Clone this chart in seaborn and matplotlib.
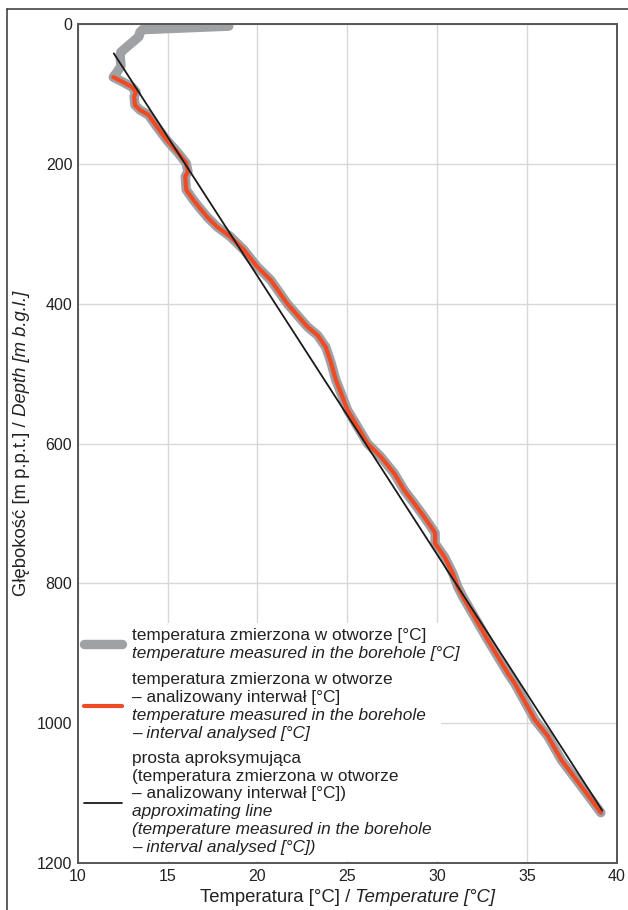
import numpy as np
import pandas as pd
import seaborn as sns
import matplotlib.pyplot as plt
from matplotlib.lines import Line2D
from matplotlib.patches import Rectangle

# top part of the measured profile (above the analysed interval)
top_temp = [18.4, 13.6, 13.45, 13.4, 12.4, 12.35, 12.4, 12.2]
top_depth = [3, 8, 12, 18, 40, 45, 60, 68]

# analysed interval
int_temp = [11.97, 12.44, 13.0, 13.24, 13.13, 13.18, 13.46, 13.93, 14.4, 14.95,
            15.6, 16.03, 16.13, 15.98, 16.03, 16.44, 16.75, 17.2, 17.75, 18.49,
            19.24, 19.98, 20.73, 21.66, 22.78, 23.34, 23.8, 24.08, 24.36, 24.73,
            25.01, 25.57, 26.13, 26.87, 27.62, 28.18, 28.74, 29.2, 29.66, 29.89,
            29.89, 30.41, 30.88, 31.15, 31.43, 32.08, 32.8, 33.95, 34.32, 35.44,
            36.18, 36.93, 38.05, 39.12]
int_depth = [76, 82, 90, 97, 104, 116, 123, 130, 147, 166,
             185, 199, 211, 218, 237, 252, 262, 276, 290, 304,
             323, 347, 366, 400, 433, 445, 462, 483, 509, 533,
             552, 576, 600, 619, 643, 667, 686, 702, 719, 728,
             743, 762, 786, 805, 819, 848, 880, 929, 943, 995,
             1019, 1053, 1091, 1128]

# approximating line
fit_temp = [12.0, 39.2]
fit_depth = [42, 1125]

x_ticks = [10, 15, 20, 25, 30, 35, 40]
y_ticks = [0, 200, 400, 600, 800, 1000, 1200]

# legend lines: (text, italic?)
leg_meas = [("temperatura zmierzona w otworze [°C]", False),
            ("temperature measured in the borehole [°C]", True)]
leg_int = [("temperatura zmierzona w otworze", False),
           ("– analizowany interwał [°C]", False),
           ("temperature measured in the borehole", True),
           ("– interval analysed [°C]", True)]
leg_fit = [("prosta aproksymująca", False),
           ("(temperatura zmierzona w otworze", False),
           ("– analizowany interwał [°C])", False),
           ("approximating line", True),
           ("(temperature measured in the borehole", True),
           ("– interval analysed [°C])", True)]

xlab = ("Temperatura [°C] /", " Temperature [°C]")
ylab = ("Głębokość [m p.p.t.] /", " Depth [m b.g.l.]")

FS_LEG = 12.4
PITCH = 17.9      # px between legend text lines
FS_LAB = 13.3
TXT = '#222222'

sns.set_theme(style="whitegrid")
plt.rcParams['font.family'] = ['Liberation Sans', 'DejaVu Sans']

meas = pd.DataFrame({'temp': top_temp + int_temp, 'depth': top_depth + int_depth})
intv = pd.DataFrame({'temp': int_temp, 'depth': int_depth})
fit = pd.DataFrame({'temp': fit_temp, 'depth': fit_depth})

fig = plt.figure(figsize=(6.28, 9.10), dpi=100)
ax = fig.add_axes([0.124, 0.0516, 0.858, 0.922])
r = fig.canvas.get_renderer()
W, H = fig.bbox.width, fig.bbox.height


def text_h(s, ls):
    tmp = fig.text(0, 0, s, fontsize=FS_LEG, linespacing=ls)
    h = tmp.get_window_extent(r).height
    tmp.remove()
    return h


ls_ph = PITCH / (text_h("l\nl", 1.0) - text_h("l", 1.0))


def blank(lines):
    # empty placeholder label with the right number of lines
    return "\n" * (len(lines) - 1)


sns.lineplot(data=meas, x='temp', y='depth', sort=False, estimator=None, ax=ax,
             color='#a0a1a4', lw=6.8, solid_capstyle='round', solid_joinstyle='round',
             label=blank(leg_meas) + " ")
sns.lineplot(data=intv, x='temp', y='depth', sort=False, estimator=None, ax=ax,
             color='#f04a25', lw=3, solid_capstyle='round', solid_joinstyle='round',
             label=blank(leg_int) + " ")
sns.lineplot(data=fit, x='temp', y='depth', sort=False, estimator=None, ax=ax,
             color='#1a1a1a', lw=1.3, label=blank(leg_fit) + " ")

ax.set_xlim(10, 40)
ax.set_ylim(1200, 0)
ax.set_xticks(x_ticks)
ax.set_yticks(y_ticks)
ax.set_xlabel("")
ax.set_ylabel("")
ax.grid(True, color='#d8d8d8', lw=1.0)
ax.tick_params(length=0, pad=4, labelsize=11.5, colors=TXT)
for s in ax.spines.values():
    s.set_color('#555555')
    s.set_linewidth(1.4)

leg = ax.legend(loc='lower left', bbox_to_anchor=(0.0, 0.004), borderaxespad=0, borderpad=0.35,
                fontsize=FS_LEG, handlelength=2.2, handletextpad=0.58, labelspacing=0.71,
                frameon=False)
for t in leg.get_texts():
    t.set_linespacing(ls_ph)

# outer frame of the figure
fig.add_artist(Line2D([7 / 628, 7 / 628], [0, 1 - 9 / 910], transform=fig.transFigure, color='#333333', lw=1.1))
fig.add_artist(Line2D([7 / 628, 1], [1 - 9 / 910, 1 - 9 / 910], transform=fig.transFigure, color='#333333', lw=1.1))

fig.canvas.draw()
r = fig.canvas.get_renderer()

# legend text, one line per text so upright and italic lines can be mixed
tops, bots = [], []
for t, lines in zip(leg.get_texts(), [leg_meas, leg_int, leg_fit]):
    bb = t.get_window_extent(r)
    cy = (bb.y0 + bb.y1) / 2
    n = len(lines)
    for k, (s, italic) in enumerate(lines):
        y = cy + ((n - 1) / 2 - k) * PITCH
        fig.text(bb.x0 / W, y / H, s, ha='left', va='center', fontsize=FS_LEG,
                 style='italic' if italic else 'normal', color=TXT, zorder=10)
    tops.append(cy + (n / 2) * PITCH)
    bots.append(cy - (n / 2) * PITCH)

# white background of the legend (hides the grid)
axbb = ax.get_window_extent(r)
pad = 4
box = Rectangle((axbb.x0 / W, (min(bots) - pad) / H), (441 - axbb.x0) / W,
                (max(tops) - min(bots) + 2 * pad) / H, transform=fig.transFigure,
                facecolor='white', edgecolor='none', zorder=1)
ax.add_patch(box)


# axis labels with an upright and an italic part
def width(s, italic, fs):
    tmp = fig.text(0, 0, s, fontsize=fs, style='italic' if italic else 'normal')
    w = tmp.get_window_extent(r).width
    tmp.remove()
    return w


w1, w2 = width(xlab[0], False, FS_LAB), width(xlab[1], True, FS_LAB)
x0 = (axbb.x0 + axbb.x1) / 2 - (w1 + w2) / 2
yl = H - 898
fig.text(x0 / W, yl / H, xlab[0], fontsize=FS_LAB, color=TXT, ha='left', va='center')
fig.text((x0 + w1) / W, yl / H, xlab[1], fontsize=FS_LAB, color=TXT, ha='left', va='center', style='italic')

w1, w2 = width(ylab[0], False, FS_LAB), width(ylab[1], True, FS_LAB)
y0 = (axbb.y0 + axbb.y1) / 2 - (w1 + w2) / 2
xl = 22
fig.text(xl / W, y0 / H, ylab[0], fontsize=FS_LAB, color=TXT, rotation=90,
         rotation_mode='anchor', ha='left', va='center')
fig.text(xl / W, (y0 + w1) / H, ylab[1], fontsize=FS_LAB, color=TXT, rotation=90,
         rotation_mode='anchor', ha='left', va='center', style='italic')

fig.savefig('out.png', dpi=100)
